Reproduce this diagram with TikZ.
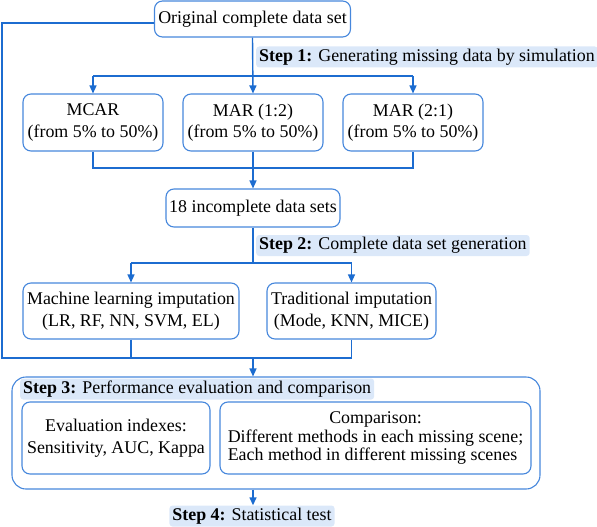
\documentclass[tikz,border=0pt]{standalone}
\usepackage{fontspec}
\setmainfont{Liberation Serif}
\usetikzlibrary{arrows.meta}
\definecolor{linec}{RGB}{28,108,208}
\definecolor{boxc}{RGB}{70,135,220}
\definecolor{hlc}{RGB}{219,232,249}
\begin{document}
\begin{tikzpicture}[x=1pt,y=-1pt,
  font=\fontsize{17.9}{21.5}\selectfont,
  box/.style={draw=boxc, line width=1.1pt, rounded corners=8pt, align=center, inner sep=0pt, text=black},
  hl/.style={fill=hlc, rounded corners=3pt, inner xsep=3pt, inner ysep=0pt, minimum height=21pt},
  conn/.style={draw=linec, line width=1.4pt},
  arr/.style={conn, -{Triangle[length=8pt,width=7pt]}}]
\useasboundingbox (0,0) rectangle (597,527);
% coordinates
\coordinate (lt) at (2,23);
\coordinate (lb) at (2,358);
\coordinate (s1) at (253,76);
\coordinate (j1) at (253,168);
\coordinate (s2) at (253,263);
% boxes
\node[box, minimum width=196pt, minimum height=36pt] (top) at (252.5,19) {Original complete data set};
\node[hl, anchor=west] (st1) at (256,57) {\textbf{Step 1:} Generating missing data by simulation};
\node[box, minimum width=140pt, minimum height=57pt] (mcar) at (93,122.5) {MCAR\\(from 5\% to 50\%)};
\node[box, minimum width=140pt, minimum height=57pt] (mar12) at (253,122.5) {MAR (1:2)\\(from 5\% to 50\%)};
\node[box, minimum width=140pt, minimum height=57pt] (mar21) at (413,122.5) {MAR (2:1)\\(from 5\% to 50\%)};
\node[box, minimum width=174pt, minimum height=38pt] (inc) at (253,208) {18 incomplete data sets};
\node[hl, anchor=west] (st2) at (256,245.5) {\textbf{Step 2:} Complete data set generation};
\node[box, minimum width=216pt, minimum height=56pt] (ml) at (131,311) {Machine learning imputation\\(LR, RF, NN, SVM, EL)};
\node[box, minimum width=169pt, minimum height=56pt] (trad) at (351.5,311) {Traditional imputation\\(Mode, KNN, MICE)};
\node[box, rounded corners=14pt, minimum width=528pt, minimum height=112pt] (step3) at (276,433) {};
\node[hl, anchor=west] (st3) at (20,389) {\textbf{Step 3:} Performance evaluation and comparison};
\node[box, minimum width=188pt, minimum height=72pt] (eval) at (116,438) {Evaluation indexes:\\Sensitivity, AUC, Kappa};
\node[box, minimum width=311pt, minimum height=72pt] (comp) at (375.5,438) {\begin{tabular}{@{}l@{}}\multicolumn{1}{@{}c@{}}{Comparison:}\\[-3pt] Different methods in each missing scene;\\[-3pt] Each method in different missing scenes\end{tabular}};
\node[hl] (st4) at (252,516) {\textbf{Step 4:} Statistical test};
% connectors
\draw[conn] (top.west |- lt) -- (lt) -- (lb) -- (trad.south |- lb);
\draw[arr] (top.south) -- (mar12.north);
\draw[conn] (mcar.north |- s1) -- (mar21.north |- s1);
\draw[arr] (mcar.north |- s1) -- (mcar.north);
\draw[arr] (mar21.north |- s1) -- (mar21.north);
\draw[conn] (mcar.south) -- (mcar.south |- j1) -- (mar21.south |- j1) -- (mar21.south);
\draw[arr] (mar12.south) -- (inc.north);
\draw[conn] (inc.south) -- (s2);
\draw[conn] (ml.north |- s2) -- (trad.north |- s2);
\draw[arr] (ml.north |- s2) -- (ml.north);
\draw[arr] (trad.north |- s2) -- (trad.north);
\draw[conn] (ml.south) -- (ml.south |- lb);
\draw[conn] (trad.south) -- (trad.south |- lb);
\draw[arr] (inc.south |- lb) -- (inc.south |- step3.north);
\draw[arr] (inc.south |- step3.south) -- (inc.south |- st4.north);
\end{tikzpicture}
\end{document}
